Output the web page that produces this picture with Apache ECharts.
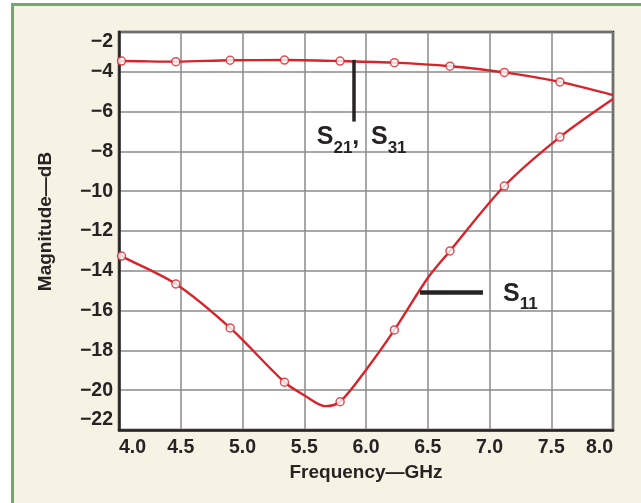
<!DOCTYPE html>
<html>
<head>
<meta charset="utf-8">
<script src="https://cdn.jsdelivr.net/npm/echarts@6/dist/echarts.min.js"></script>
<style>
  html, body { margin: 0; padding: 0; background: #ffffff; }
  #grafico { width: 641px; height: 503px; }
</style>
</head>
<body>
<div id="grafico"></div>
<script>
// ---- datos ----
const ticksX = [4.0, 4.5, 5.0, 5.5, 6.0, 6.5, 7.0, 7.5, 8.0];
const ticksY = [-22, -20, -18, -16, -14, -12, -10, -8, -6, -4, -2];

// curvas (puntos leidos sobre la linea)
const curvaS21 = [
  [4.0, -3.46], [4.02, -3.46], [4.46, -3.49], [4.90, -3.42], [5.34, -3.41],
  [5.79, -3.46], [6.23, -3.54], [6.68, -3.72], [7.12, -4.03], [7.57, -4.51], [8.0, -5.17]
];
const curvaS11 = [
  [4.0, -13.15], [4.02, -13.26], [4.46, -14.66], [4.90, -16.87], [5.34, -19.6],
  [5.50, -20.25], [5.67, -20.8], [5.79, -20.58], [6.0, -18.98], [6.23, -16.97],
  [6.5, -14.36], [6.68, -13.0], [7.12, -9.74], [7.57, -7.28], [8.0, -5.37]
];

// marcadores (circulos abiertos)
const puntosS21 = [
  [4.02, -3.46], [4.46, -3.49], [4.90, -3.42], [5.34, -3.41], [5.79, -3.46],
  [6.23, -3.54], [6.68, -3.72], [7.12, -4.03], [7.57, -4.51]
];
const puntosS11 = [
  [4.02, -13.26], [4.46, -14.66], [4.90, -16.87], [5.34, -19.6], [5.79, -20.58],
  [6.23, -16.97], [6.68, -13.0], [7.12, -9.74], [7.57, -7.28]
];

// lineas guia de las etiquetas
const guiaS21 = [[5.9, -3.4], [5.9, -6.5]];
const guiaS11 = [[6.437, -15.1], [6.947, -15.1]];
const posTextoS21 = [5.965, -7.3];
const posTextoS11 = [7.109, -15.15];

const ROJO = '#d8232a';
const TINTA = '#272324';
const FUENTE = '"Liberation Sans", Arial, sans-serif';

const chart = echarts.init(document.getElementById('grafico'), null, { renderer: 'canvas' });

const menos = v => String(v).replace('-', '\u2212');

const ricoS = {
  s: { fontSize: 25, fontWeight: 'bold', color: TINTA, fontFamily: FUENTE, lineHeight: 28 },
  b: { fontSize: 17, fontWeight: 'bold', color: TINTA, fontFamily: FUENTE, lineHeight: 17,
       verticalAlign: 'bottom', padding: [0, 0, -5, 0] }
};

chart.setOption({
  animation: false,
  graphic: [{
    type: 'rect',
    z: -10,
    shape: { x: 12.5, y: 4.5, width: 700, height: 600 },
    style: { fill: '#f6f3e4', stroke: '#74a86e', lineWidth: 3 }
  }],
  grid: {
    left: 119, top: 32, right: 28, bottom: 73,
    show: true,
    backgroundColor: '#ffffff',
    borderColor: TINTA,
    borderWidth: 2.5,
    containLabel: false,
    outerBoundsMode: 'none'
  },
  xAxis: {
    type: 'value',
    min: 4, max: 8, interval: 0.5,
    name: 'Frequency\u2014GHz',
    nameLocation: 'middle',
    nameGap: 30,
    nameTextStyle: { fontSize: 19, fontWeight: 'bold', color: TINTA, fontFamily: FUENTE },
    axisLine: { show: true, lineStyle: { color: TINTA, width: 2.5 } },
    axisTick: { show: false },
    axisLabel: {
      fontSize: 19.5, fontWeight: 'bold', color: TINTA, fontFamily: FUENTE, margin: 8,
      alignMinLabel: 'left', alignMaxLabel: 'right',
      formatter: v => ticksX.includes(v) ? v.toFixed(1) : ''
    },
    splitLine: { show: true, lineStyle: { color: '#8a8a8a', width: 1.5 } }
  },
  yAxis: {
    type: 'value',
    min: -22, max: -2, interval: 2,
    name: 'Magnitude\u2014dB',
    nameLocation: 'middle',
    nameGap: 64,
    nameTextStyle: { fontSize: 19, fontWeight: 'bold', color: TINTA, fontFamily: FUENTE, padding: [0, 0, 0, 19] },
    axisLine: { show: true, lineStyle: { color: TINTA, width: 2.5 } },
    axisTick: { show: false },
    axisLabel: {
      fontSize: 19.5, fontWeight: 'bold', color: TINTA, fontFamily: FUENTE, margin: 6,
      verticalAlignMinLabel: 'bottom', verticalAlignMaxLabel: 'top',
      formatter: v => ticksY.includes(v) ? menos(v) : ''
    },
    splitLine: { show: true, lineStyle: { color: '#8a8a8a', width: 1.5 } }
  },
  series: [
    {
      name: 'S21, S31', type: 'line', data: curvaS21, smooth: 0.3,
      showSymbol: false, lineStyle: { color: ROJO, width: 2.4 }, z: 3
    },
    {
      name: 'S11', type: 'line', data: curvaS11, smooth: 0.3,
      showSymbol: false, lineStyle: { color: ROJO, width: 2.4 }, z: 3
    },
    {
      type: 'scatter', data: puntosS21.concat(puntosS11),
      symbol: 'circle', symbolSize: 8,
      itemStyle: { color: '#ffffff', borderColor: ROJO, borderWidth: 1.5 }, z: 5
    },
    {
      type: 'line', data: [], z: 6,
      markLine: {
        silent: true, symbol: 'none', label: { show: false },
        data: [
          [{ coord: guiaS21[0], lineStyle: { color: TINTA, width: 3.5, type: 'solid' } }, { coord: guiaS21[1] }],
          [{ coord: guiaS11[0], lineStyle: { color: TINTA, width: 4.5, type: 'solid' } }, { coord: guiaS11[1] }]
        ]
      },
      markPoint: {
        silent: true, symbol: 'circle', symbolSize: 0,
        data: [
          { coord: posTextoS21, label: { show: true, position: 'inside',
              formatter: '{s|S}{b|21}{s|, }{b| }{s|S}{b|31}', rich: ricoS } },
          { coord: posTextoS11, label: { show: true, position: 'right', distance: 0,
              formatter: '{s|S}{b|11}', rich: ricoS } }
        ]
      }
    }
  ]
});

window.addEventListener('resize', () => chart.resize());
</script>
</body>
</html>
